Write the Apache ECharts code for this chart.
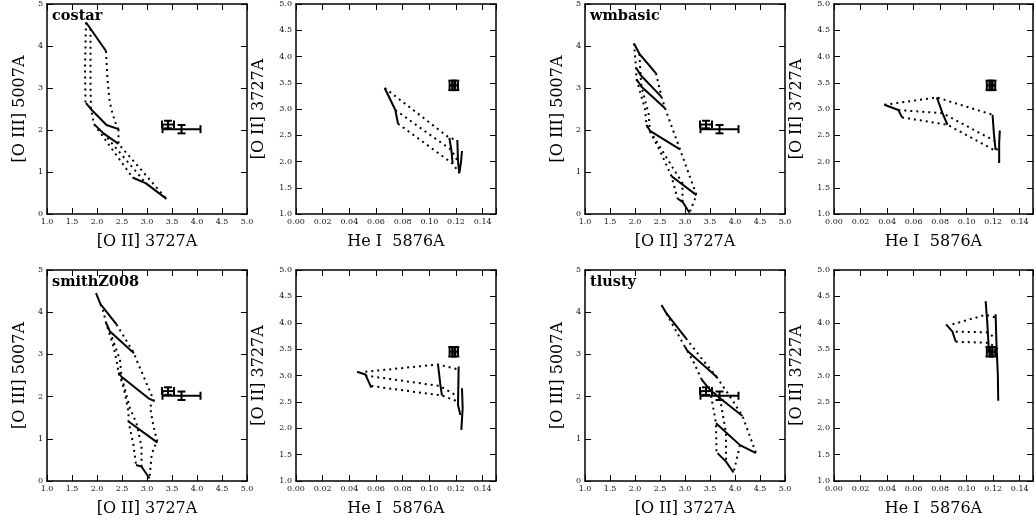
<!DOCTYPE html>
<html><head><meta charset="utf-8">
<script src="https://cdn.jsdelivr.net/npm/echarts@6/dist/echarts.min.js"></script>
<style>html,body{margin:0;padding:0;background:#fff}#c{width:1036px;height:527px}</style>
</head><body><div id="c"></div>
<script>
// ---------------- DATA ----------------
const modelNames = ['costar', 'wmbasic', 'smithZ008', 'tlusty'];
const o3o2XRange = [1.0, 5.0], o3o2YRange = [0, 5];
const o2heXRange = [0.0, 0.15], o2heYRange = [1.0, 5.0];
const o3o2XName = '[O II] 3727A', o3o2YName = '[O III] 5007A';
const o2heXName = 'He I  5876A', o2heYName = '[O II] 3727A';

// observed points: [x, y, xErr, yErr]
const obsO3O2 = [[3.42, 2.13, 0.12, 0.09], [3.69, 2.02, 0.38, 0.10]];
const obsO2He = [[0.1172, 3.45, 0.002, 0.09], [0.1195, 3.45, 0.002, 0.09]];

// costar
const costarO3O2Tracks = [
  [[1.78, 4.56], [1.87, 4.41], [2.18, 3.88]],
  [[1.78, 2.64], [1.90, 2.47], [2.19, 2.12], [2.43, 2.02]],
  [[1.94, 2.14], [2.13, 1.92], [2.43, 1.67]],
  [[2.71, 0.87], [2.98, 0.73], [3.39, 0.36]]
];
const costarO3O2Grid = [
  [[1.78, 4.56], [1.76, 3.50], [1.77, 2.64]],
  [[1.87, 4.41], [1.87, 3.00], [1.88, 2.50], [1.94, 2.14], [2.71, 0.87]],
  [[2.18, 3.88], [2.21, 3.20], [2.25, 2.71], [2.29, 2.48], [2.36, 2.20], [2.43, 2.02]],
  [[2.13, 1.92], [2.98, 0.73]],
  [[2.43, 2.02], [2.43, 1.67], [3.39, 0.36]]
];
const costarO2HeTracks = [
  [[0.0665, 3.40], [0.0745, 2.98], [0.0765, 2.72]],
  [[0.1150, 2.45], [0.1165, 2.22], [0.1175, 1.96]],
  [[0.1210, 2.41], [0.1215, 2.00], [0.1225, 1.78], [0.1238, 2.00], [0.1245, 2.20]]
];
const costarO2HeGrid = [
  [[0.0665, 3.40], [0.1150, 2.45], [0.1210, 2.41]],
  [[0.0745, 2.98], [0.1165, 2.22], [0.1215, 2.00]],
  [[0.0765, 2.72], [0.1175, 1.96], [0.1225, 1.78]]
];

// wmbasic
const wmbasicO3O2Tracks = [
  [[1.98, 4.06], [2.09, 3.81], [2.42, 3.35]],
  [[2.02, 3.49], [2.11, 3.31], [2.53, 2.79]],
  [[2.03, 3.21], [2.13, 3.03], [2.60, 2.52]],
  [[2.23, 2.12], [2.30, 1.98], [2.90, 1.54]],
  [[2.73, 0.90], [3.23, 0.45]],
  [[2.85, 0.37], [2.95, 0.29], [3.09, 0.03]]
];
const wmbasicO3O2Grid = [
  [[1.98, 4.06], [2.02, 3.49], [2.03, 3.21], [2.20, 2.50], [2.23, 2.12], [2.50, 1.50], [2.73, 0.90], [2.85, 0.37]],
  [[2.09, 3.81], [2.11, 3.31], [2.13, 3.03], [2.27, 2.40], [2.30, 1.98], [2.60, 1.40], [2.95, 0.73], [2.95, 0.29]],
  [[2.42, 3.35], [2.53, 2.79], [2.60, 2.52], [2.90, 1.54], [3.23, 0.45], [3.09, 0.03]]
];
const wmbasicO2HeTracks = [
  [[0.0380, 3.08], [0.0485, 2.98], [0.0513, 2.84]],
  [[0.0775, 3.22], [0.0818, 2.92], [0.0855, 2.70]],
  [[0.1195, 2.89], [0.1205, 2.54], [0.1218, 2.22]],
  [[0.1250, 2.59], [0.1245, 2.35], [0.1245, 1.97]]
];
const wmbasicO2HeGrid = [
  [[0.0380, 3.08], [0.0775, 3.22], [0.1195, 2.89]],
  [[0.0485, 2.98], [0.0818, 2.92], [0.1205, 2.40], [0.1245, 2.35]],
  [[0.0513, 2.84], [0.0855, 2.70], [0.1220, 2.20], [0.1245, 2.30]]
];

// smithZ008
const smithO3O2Tracks = [
  [[1.98, 4.45], [2.07, 4.19], [2.39, 3.71]],
  [[2.18, 3.75], [2.26, 3.54], [2.74, 3.03]],
  [[2.43, 2.57], [2.49, 2.47], [3.03, 1.96], [3.14, 1.90]],
  [[2.63, 1.41], [3.21, 0.91]],
  [[2.78, 0.38], [2.89, 0.34], [2.96, 0.22], [3.05, 0.06]]
];
const smithO3O2Grid = [
  [[2.07, 4.19], [2.13, 4.01], [2.18, 3.75], [2.33, 3.18], [2.39, 2.87], [2.43, 2.57], [2.53, 2.23], [2.63, 1.64], [2.63, 1.41], [2.73, 0.85], [2.78, 0.38]],
  [[2.26, 3.54], [2.46, 2.87], [2.49, 2.47], [2.66, 1.72], [2.79, 1.37], [2.89, 0.81], [2.89, 0.34]],
  [[2.39, 3.71], [2.74, 3.03], [2.79, 2.87], [3.09, 2.04], [3.14, 1.90], [3.06, 1.76], [3.13, 1.29], [3.21, 0.91], [3.14, 0.81], [3.09, 0.58], [3.05, 0.06]]
];
const smithO2HeTracks = [
  [[0.0458, 3.07], [0.0520, 3.02], [0.0565, 2.77]],
  [[0.1065, 3.21], [0.1083, 2.82], [0.1095, 2.62]],
  [[0.1220, 3.17], [0.1215, 2.44], [0.1233, 2.25]],
  [[0.1245, 2.76], [0.1250, 2.38], [0.1240, 1.97]]
];
const smithO2HeGrid = [
  [[0.0520, 3.07], [0.1065, 3.21], [0.1210, 3.12]],
  [[0.0520, 3.00], [0.1080, 2.80], [0.1215, 2.60]],
  [[0.0565, 2.80], [0.1095, 2.62], [0.1220, 2.50]]
];

// tlusty
const tlustyO3O2Tracks = [
  [[2.53, 4.17], [2.63, 3.97], [3.02, 3.38]],
  [[3.00, 3.18], [3.05, 3.08], [3.63, 2.47]],
  [[3.33, 2.41], [3.50, 2.16], [3.70, 1.96], [4.15, 1.54]],
  [[3.62, 1.37], [3.85, 1.12], [4.10, 0.85], [4.42, 0.66]],
  [[3.65, 0.66], [3.82, 0.46], [3.97, 0.20]]
];
const tlustyO3O2Grid = [
  [[2.63, 3.97], [2.80, 3.60], [3.00, 3.18]],
  [[3.02, 3.38], [3.30, 2.95], [3.63, 2.47]],
  [[3.05, 3.08], [3.20, 2.75], [3.33, 2.41]],
  [[3.63, 2.47], [3.90, 2.00], [4.15, 1.54], [4.42, 0.66]],
  [[3.50, 2.16], [3.62, 1.37], [3.63, 0.66]],
  [[3.70, 1.96], [3.82, 1.13], [3.82, 0.46]],
  [[4.10, 0.85], [3.97, 0.20]]
];
const tlustyO2HeTracks = [
  [[0.0845, 3.97], [0.0893, 3.83], [0.0918, 3.64]],
  [[0.1143, 4.41], [0.1155, 4.02], [0.1168, 3.45]],
  [[0.1218, 4.16], [0.1225, 3.58], [0.1235, 3.01], [0.1238, 2.52]]
];
const tlustyO2HeGrid = [
  [[0.0893, 3.97], [0.1143, 4.15], [0.1218, 4.10]],
  [[0.0918, 3.83], [0.1150, 3.82], [0.1225, 3.70]],
  [[0.0918, 3.64], [0.1168, 3.62], [0.1235, 3.50]]
];

const modelO3O2Tracks = [costarO3O2Tracks, wmbasicO3O2Tracks, smithO3O2Tracks, tlustyO3O2Tracks];
const modelO3O2Grid = [costarO3O2Grid, wmbasicO3O2Grid, smithO3O2Grid, tlustyO3O2Grid];
const modelO2HeTracks = [costarO2HeTracks, wmbasicO2HeTracks, smithO2HeTracks, tlustyO2HeTracks];
const modelO2HeGrid = [costarO2HeGrid, wmbasicO2HeGrid, smithO2HeGrid, tlustyO2HeGrid];

// ---------------- LAYOUT ----------------
const colLeft = [47, 296, 585, 834];
const rowTop = [4, 270];
const rowH = [210, 211];
const panelW = 200;
const FONT = 'DejaVu Serif';

const option = {animation: false, backgroundColor: '#fff', grid: [], xAxis: [], yAxis: [], series: [], graphic: []};

function axisBase(gi, range, interval, pos, showLabel, fmt, name, nameGap) {
  return {
    gridIndex: gi, type: 'value', position: pos, min: range[0], max: range[1], interval: interval,
    axisLine: {show: true, onZero: false, lineStyle: {color: '#000', width: 1.5}},
    axisTick: {show: true, inside: true, length: 6, lineStyle: {color: '#000', width: 1}},
    axisLabel: {show: showLabel, fontFamily: FONT, fontSize: 8, color: '#111', margin: 4, formatter: fmt},
    splitLine: {show: false},
    name: showLabel ? name : '', nameLocation: 'middle', nameGap: nameGap,
    nameTextStyle: {fontFamily: FONT, fontSize: 16, color: '#000'}
  };
}

function addPanel(left, top, h, xr, yr, xInt, yInt, xFmt, yFmt, xName, yName, yGap) {
  const gi = option.grid.length;
  option.grid.push({left: left, top: top, width: panelW, height: h, containLabel: false});
  const xi = option.xAxis.length, yi = option.yAxis.length;
  option.xAxis.push(axisBase(gi, xr, xInt, 'bottom', true, xFmt, xName, 20));
  option.xAxis.push(axisBase(gi, xr, xInt, 'top', false, xFmt, '', 0));
  option.yAxis.push(axisBase(gi, yr, yInt, 'left', true, yFmt, yName, yGap));
  option.yAxis.push(axisBase(gi, yr, yInt, 'right', false, yFmt, '', 0));
  return {xi: xi, yi: yi};
}

function addLines(ax, tracks, grid) {
  grid.forEach(g => option.series.push({
    type: 'line', xAxisIndex: ax.xi, yAxisIndex: ax.yi, data: g, symbol: 'none', silent: true, z: 2,
    lineStyle: {color: '#000', width: 2, type: [2, 4], cap: 'butt'}
  }));
  tracks.forEach(t => option.series.push({
    type: 'line', xAxisIndex: ax.xi, yAxisIndex: ax.yi, data: t, symbol: 'none', silent: true, z: 3,
    lineStyle: {color: '#000', width: 2}
  }));
}

function errBarRender(params, api) {
  const x = api.value(0), y = api.value(1), xe = api.value(2), ye = api.value(3);
  const l = api.coord([x - xe, y]), r = api.coord([x + xe, y]);
  const b = api.coord([x, y - ye]), t = api.coord([x, y + ye]);
  const cap = 4;
  const st = {stroke: '#000', lineWidth: 2};
  return {type: 'group', children: [
    {type: 'line', shape: {x1: l[0], y1: l[1], x2: r[0], y2: r[1]}, style: st},
    {type: 'line', shape: {x1: l[0], y1: l[1] - cap, x2: l[0], y2: l[1] + cap}, style: st},
    {type: 'line', shape: {x1: r[0], y1: r[1] - cap, x2: r[0], y2: r[1] + cap}, style: st},
    {type: 'line', shape: {x1: b[0], y1: b[1], x2: t[0], y2: t[1]}, style: st},
    {type: 'line', shape: {x1: b[0] - cap, y1: b[1], x2: b[0] + cap, y2: b[1]}, style: st},
    {type: 'line', shape: {x1: t[0] - cap, y1: t[1], x2: t[0] + cap, y2: t[1]}, style: st}
  ]};
}

function addObs(ax, data) {
  option.series.push({type: 'custom', xAxisIndex: ax.xi, yAxisIndex: ax.yi, data: data,
    encode: {x: 0, y: 1}, renderItem: errBarRender, z: 4, silent: true});
}

const fmt1 = v => v.toFixed(1);
const fmt0 = v => String(Math.round(v));
const fmt2 = v => (v > 0.1405 ? '' : v.toFixed(2));

for (let m = 0; m < 4; m++) {
  const row = Math.floor(m / 2), cp = (m % 2) * 2;
  const top = rowTop[row], h = rowH[row];
  const a1 = addPanel(colLeft[cp], top, h, o3o2XRange, o3o2YRange, 0.5, 1, fmt1, fmt0, o3o2XName, o3o2YName, 19);
  addLines(a1, modelO3O2Tracks[m], modelO3O2Grid[m]);
  addObs(a1, obsO3O2);
  const a2 = addPanel(colLeft[cp + 1], top, h, o2heXRange, o2heYRange, 0.02, 0.5, fmt2, fmt1, o2heXName, o2heYName, 29);
  addLines(a2, modelO2HeTracks[m], modelO2HeGrid[m]);
  addObs(a2, obsO2He);
  option.graphic.push({type: 'text', left: colLeft[cp] + 5, top: top + 5, z: 10,
    style: {text: modelNames[m], font: 'bold 14.5px "DejaVu Serif"', fill: '#000'}});
}

const chart = echarts.init(document.getElementById('c'), null, {renderer: 'canvas'});
chart.setOption(option);
</script></body></html>
